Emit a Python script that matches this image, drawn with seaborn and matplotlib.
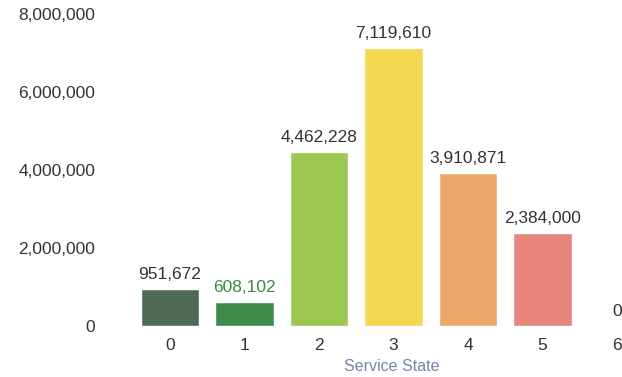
import matplotlib
matplotlib.use("Agg")
import matplotlib.pyplot as plt
import seaborn as sns
import pandas as pd

states = ["0", "1", "2", "3", "4", "5", "6"]
counts = [951672, 608102, 4462228, 7119610, 3910871, 2384000, 0]
bar_colors = ["#4e6b57", "#3f8b4b", "#9cc852", "#f3d850", "#eca86b", "#e8847b", "#e8847b"]
label_colors = ["#333333", "#3a8a3f", "#333333", "#333333", "#333333", "#333333", "#333333"]
y_ticks = [0, 2000000, 4000000, 6000000, 8000000]

sns.set_theme(style="white")
plt.rcParams["font.family"] = ["Liberation Sans", "DejaVu Sans"]

df = pd.DataFrame({"state": states, "count": counts})

fig = plt.figure(figsize=(6.22, 3.77), dpi=100)
ax = fig.add_axes([0.18, 51 / 377, 0.82, 312.4 / 377])

sns.barplot(data=df, x="state", y="count", hue="state", order=states,
            palette=bar_colors, width=0.78, legend=False, ax=ax, saturation=1)

for i, (v, c) in enumerate(zip(counts, label_colors)):
    ax.annotate(f"{v:,}", (i, v), xytext=(0, 5), textcoords="offset points",
                ha="center", va="bottom", fontsize=12.5, color=c)

ax.set_ylim(0, 8000000)
ax.set_xlim((112 - 170) / 74.5, (622 - 170) / 74.5)
ax.set_yticks(y_ticks)
ax.set_yticklabels([f"{t:,}" for t in y_ticks], fontsize=12.5, color="#333333")
ax.tick_params(axis="y", pad=12, length=0)
ax.tick_params(axis="x", labelsize=12.5, colors="#333333", length=0, pad=9)
ax.set_xlabel("Service State", fontsize=11.5, color="#7088a6", labelpad=4)
ax.xaxis.label.set_x((392 - 112) / 510)
ax.set_ylabel("")
for s in ax.spines.values():
    s.set_visible(False)

fig.savefig("out.png", dpi=100, facecolor="white")
